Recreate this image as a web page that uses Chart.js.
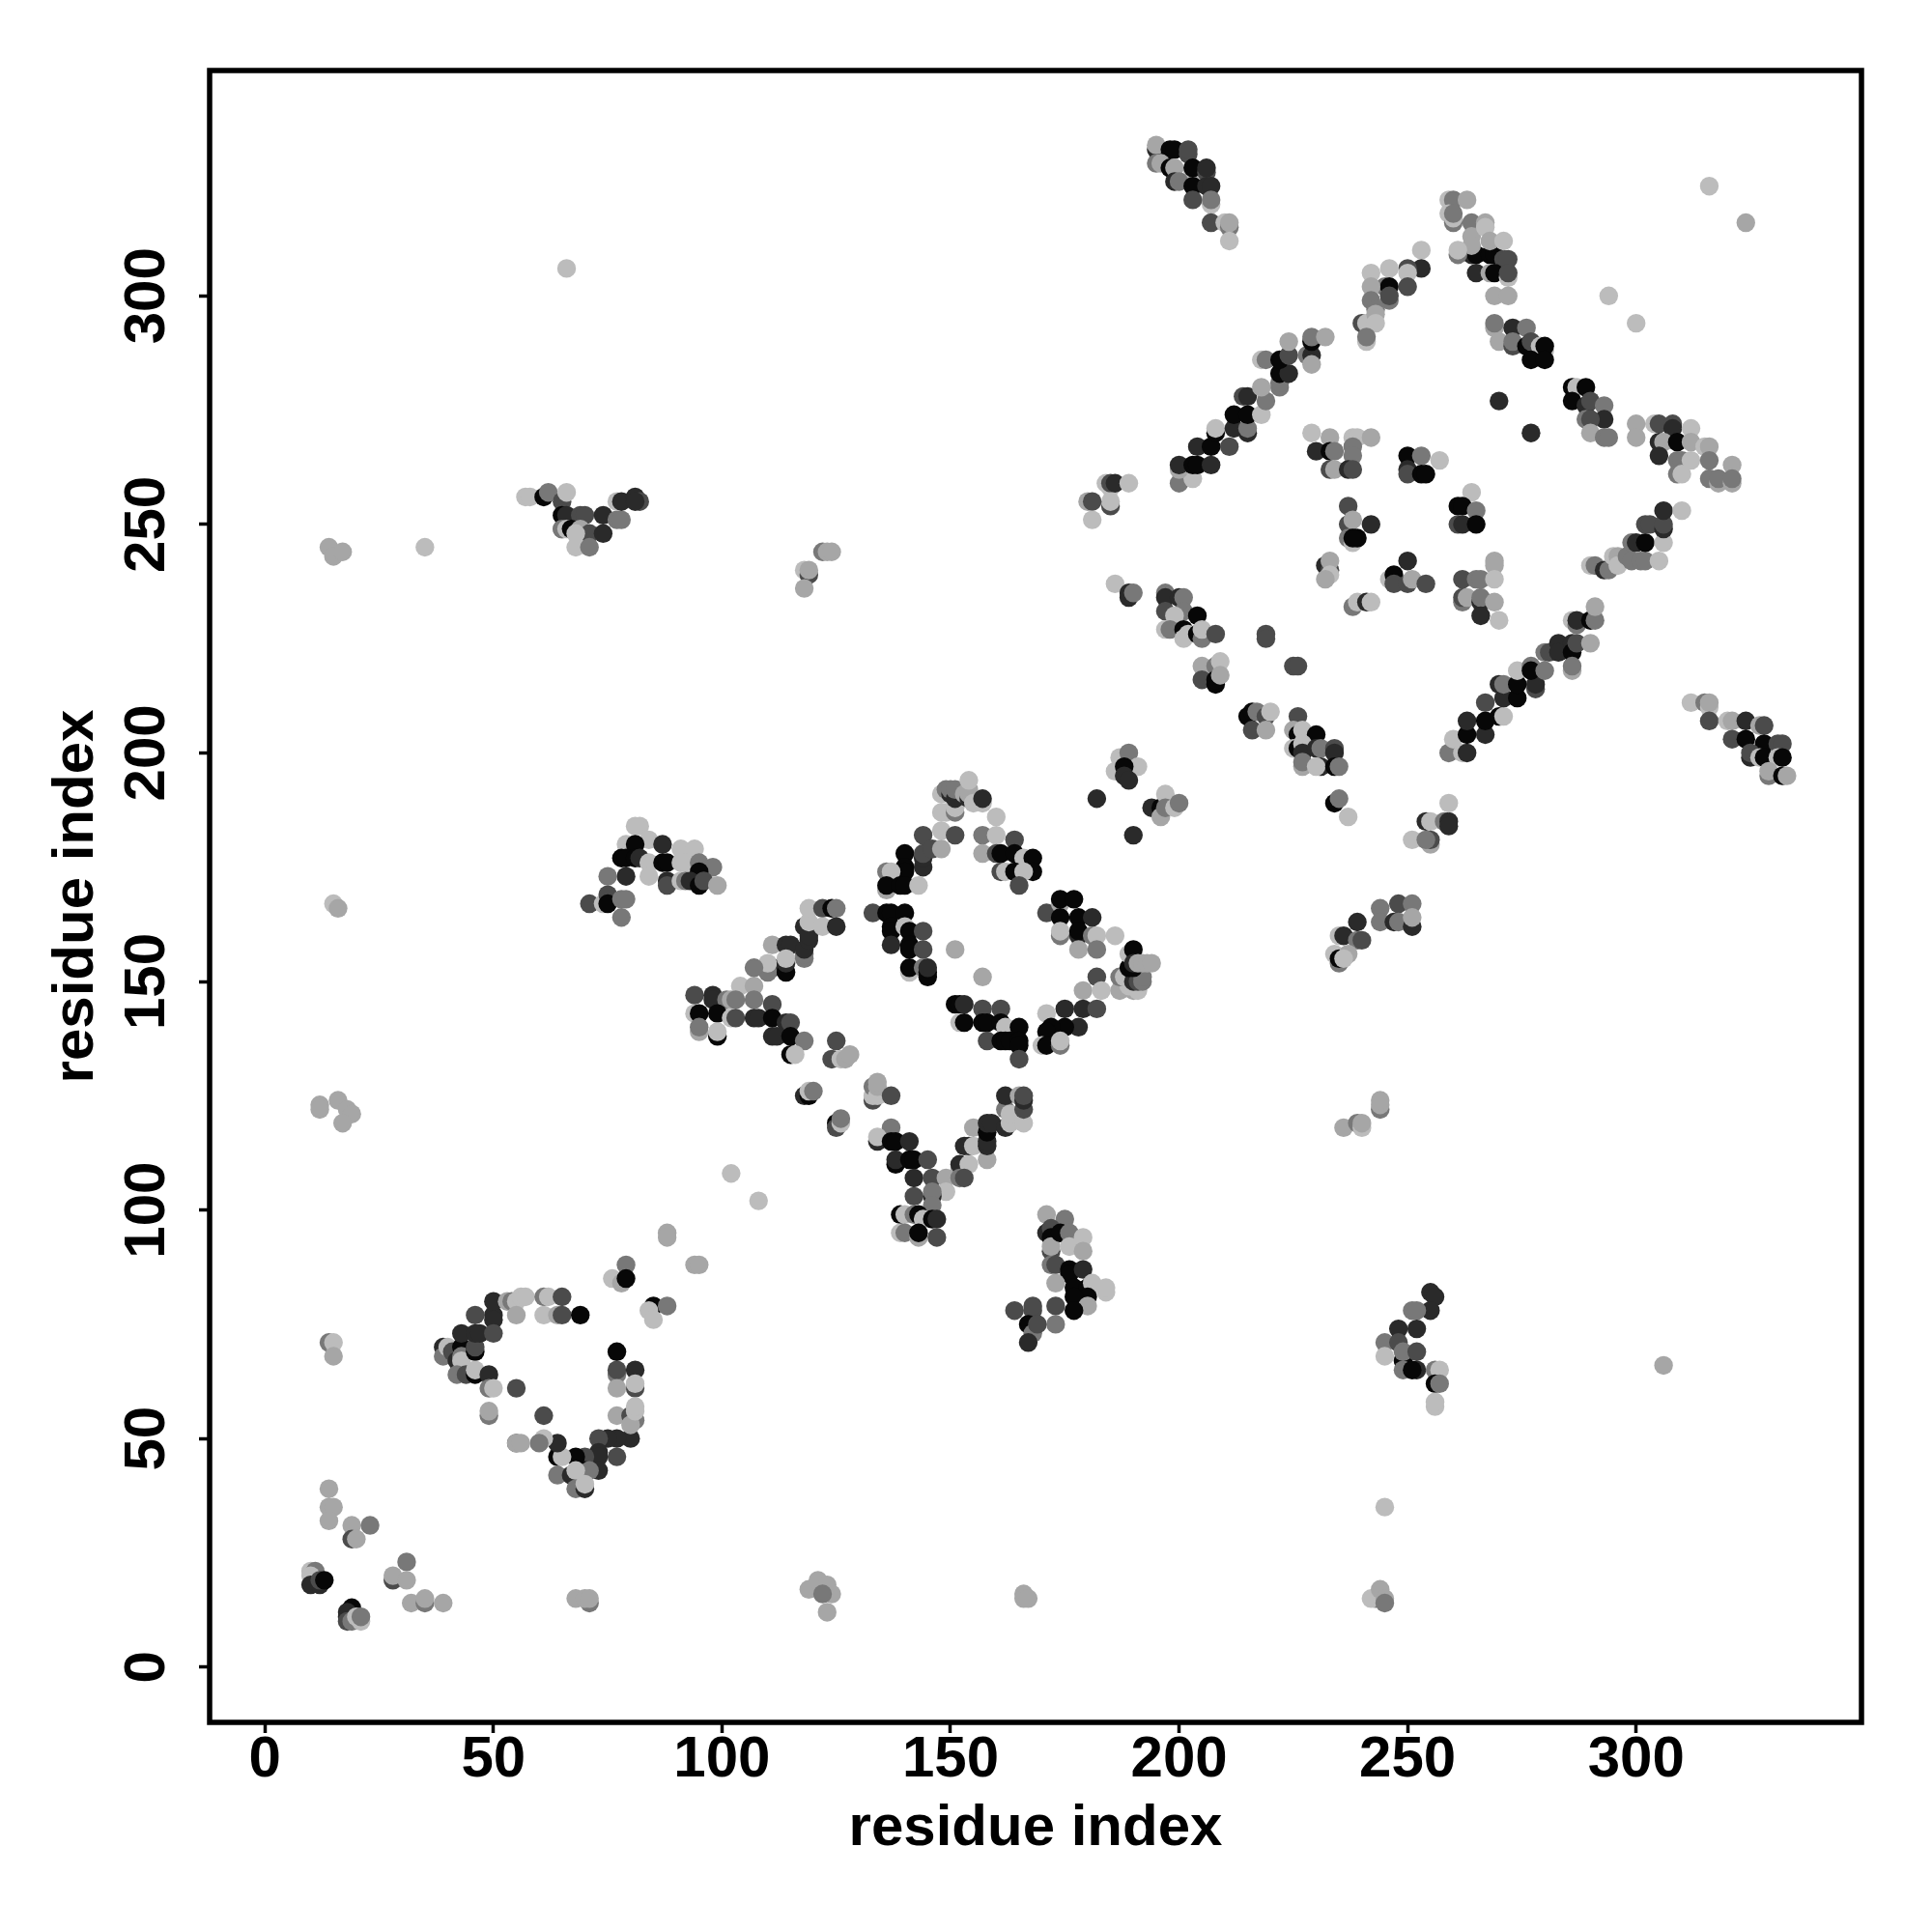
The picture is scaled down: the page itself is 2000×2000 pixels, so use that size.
<!DOCTYPE html>
<html lang="en">
<head>
    <meta charset="UTF-8">
    <title>Residue contact map</title>
    <script src="https://cdn.jsdelivr.net/npm/chart.js"></script>
    <style>
        body { margin: 0; background: #fff; }
        canvas { display: block; }
    </style>
</head>
<body>
    <canvas id="contactChart" width="2000" height="2000"></canvas>
    <script>
        // each group: residue x, residue y, strength level (0 strongest .. 5 weakest)
        const tickStep = 50;

        const cornerAx = [10,11,10,10,12,12,13];
        const cornerAy = [21,21,20,18,18,19,19];
        const cornerAl = [5,3,5,1,1,2,0];

        const cornerBx = [19,18,18,18,19,20,21,21];
        const cornerBy = [13,12,11,10,10,11,10,11];
        const cornerBl = [0,1,1,2,3,5,5,3];

        const lowScatterX = [14,14,15,14,19,23,19,20,31,28,28,31,32,35,35,39,14,15,15,68,71,70,71];
        const lowScatterY = [39,35,35,32,31,31,28,28,23,19,20,19,14,14,15,14,71,71,68,15,14,15,15];
        const lowScatterL = [4,4,4,4,4,3,2,4,3,2,4,4,4,3,4,4,3,5,4,4,3,4,4];

        const farX = [119,121,123,124,122,123,166,166,167,243,242,244,245,245,245,306,35,66,14,15,17,15,16,12,12,16,18,19,17,102,108,88,88,94,95];
        const farY = [17,19,18,16,16,12,16,15,15,15,15,17,15,14,35,66,245,306,245,243,244,167,166,123,122,124,122,121,119,108,102,95,94,88,88];
        const farL = [4,4,4,4,3,4,4,4,4,3,5,4,4,3,5,4,5,5,4,4,4,5,4,4,4,4,4,4,4,5,5,4,4,4,4];

        const ringLeftX = [39,39,40,41,42,43,43,43,46,46,43,46,47,50,42,44,46,46,49,49,50,49,49];
        const ringLeftY = [70,68,70,69,67,70,68,67,69,70,73,73,73,73,64,64,64,65,64,61,61,55,56];
        const ringLeftL = [1,3,5,2,1,0,3,5,0,2,1,1,1,2,3,2,0,5,1,3,5,3,4];

        const ringTopX = [50,50,46,50,53,54,55,56,57,55,61,62,65,61,64,65,69,55,61];
        const ringTopY = [77,76,77,80,80,80,80,81,81,77,81,81,81,77,77,77,77,61,55];
        const ringTopL = [1,1,2,1,4,3,5,5,5,4,3,5,2,5,4,2,0,2,2];

        const ringRightX = [79,76,78,79,85,84,85,88,77,77,77,81,81,81,77,77,80,81,80,81,81];
        const ringRightY = [88,85,84,85,79,78,76,79,69,64,65,65,61,62,61,55,55,54,53,56,57];
        const ringRightL = [3,5,4,0,0,5,5,3,0,3,2,1,2,5,4,4,2,3,4,5,5];

        const ringBottomX = [80,77,75,73,77,73,73,73,70,68,64,65,64,61,60,55,55,56,64,67,70,71,68,68,70,70];
        const ringBottomY = [50,50,50,50,46,47,46,43,46,46,46,46,49,50,49,49,49,49,42,42,43,43,43,39,39,40];
        const ringBottomL = [1,1,1,2,2,1,1,1,2,0,0,5,1,5,3,2,4,4,3,1,0,3,5,3,1,5];

        const diamondLeftX = [94,98,98,101,104,107,107,107,102,103,94,95,99,95,95,99,99,102,103,107,108,111,111,114,115,111,112,115,118,115,116];
        const diamondLeftY = [147,147,146,146,149,149,153,146,146,146,143,143,143,139,140,138,139,142,142,142,142,145,142,141,141,138,138,138,137,134,134];
        const diamondLeftL = [2,1,1,3,5,4,3,3,4,3,5,0,0,4,3,0,5,5,2,1,1,2,0,1,2,1,1,0,3,0,5];

        const armUpLeftX = [111,114,115,111,110,110,114,114,114,118,118,118,119,118,119,119,119,122,124,125,122,125,125,124,126,127,128];
        const armUpLeftY = [158,158,158,153,152,154,152,154,155,155,156,157,159,162,160,163,166,166,166,166,162,162,137,133,133,133,134];
        const armUpLeftL = [4,1,1,1,3,5,0,1,5,3,3,1,1,1,1,5,5,2,0,3,5,1,2,2,5,4,4];

        const innerLeftX = [133,136,137,140,137,137,140,141,144,137,141,141,144,141,141,144,145,145,145,151,157];
        const innerLeftY = [165,165,165,165,162,161,162,161,161,158,158,157,157,152,153,153,152,151,153,157,151];
        const innerLeftL = [2,0,0,0,0,0,5,0,2,1,0,0,2,5,0,3,0,0,1,4,4];

        const armTopX = [140,140,140,136,137,136,136,139,140,143,144,144,144,144,146,148,148,151];
        const armTopY = [178,175,174,174,174,170,171,171,171,171,175,177,178,182,179,179,183,182];
        const armTopL = [0,0,0,3,5,4,0,0,0,5,1,1,2,2,2,4,5,2];

        const topBlobX = [148,149,151,151,148,149,150,150,151,151,153,154,154,154,154,155,157,157,160];
        const topBlobY = [187,187,187,188,191,192,191,192,190,192,191,190,191,192,194,189,189,190,186];
        const topBlobL = [5,5,3,5,5,3,1,3,1,3,4,1,4,4,5,5,5,1,5];

        const armRightX = [157,160,164,157,160,161,164,166,168,168,161,162,164,166,165];
        const armRightY = [182,182,181,178,178,178,178,177,177,174,174,174,174,174,171];
        const armRightL = [3,5,2,4,2,0,0,5,0,0,2,5,0,5,2];

        const lobeRightX = [171,174,174,177,174,178,181,174,174,178,178,181,182,178,182,186];
        const lobeRightY = [165,167,168,168,164,164,164,160,161,160,161,160,160,157,157,160];
        const lobeRightL = [2,4,0,0,0,0,1,3,5,1,0,3,5,4,3,5];

        const farRightX = [187,190,191,189,187,188,190,191,192,192,189,190,189,190,190,191,192,193,194];
        const farRightY = [148,148,148,149,151,151,150,150,150,151,153,153,156,157,154,154,154,154,154];
        const farRightL = [4,4,5,5,3,5,1,2,3,3,0,0,5,0,1,4,4,4,4];

        const armLowRightX = [182,179,183,179,175,182,178,175,171,172,171,170,171,174,174];
        const armLowRightY = [151,148,148,144,144,144,140,140,143,140,139,136,136,136,137];
        const armLowRightL = [2,4,5,1,1,2,1,0,5,0,0,5,0,3,5];

        const innerBottomX = [151,152,153,152,153,157,161,157,158,161,162,165,158,161,162,163,165,165,165];
        const innerBottomY = [145,145,145,141,141,144,144,141,141,141,140,140,137,137,137,137,137,136,133];
        const innerBottomL = [0,0,1,5,0,2,2,0,0,0,5,0,2,0,0,0,0,0,2];

        const belowDiamondX = [118,119,119,120,125,125,126,126,133,133,133,134,134,134,137];
        const belowDiamondY = [125,125,126,126,119,118,119,120,124,125,127,125,127,128,125];
        const belowDiamondL = [1,0,5,3,0,2,5,3,2,5,3,5,4,4,2];

        const vLeftX = [137,134,134,137,138,141,138,138,141,142,145,142,146,149,152,153,149,142,146,146,146,139,140,142,143,144,146,147,139,140,143,143,147];
        const vLeftY = [118,115,116,115,115,115,110,111,111,111,111,107,107,107,107,107,104,103,103,104,101,99,99,99,99,98,98,98,95,95,94,95,94];
        const vLeftL = [3,1,5,0,0,1,0,1,0,0,2,1,2,4,3,2,5,2,1,3,3,0,5,3,0,5,0,1,5,3,4,0,2];

        const vRightX = [152,152,154,158,153,154,155,158,158,155,158,158,159,162,163,162,163,166,166,162,165,166,166];
        const vRightY = [109,110,110,111,114,114,114,114,115,118,117,119,119,118,119,122,121,119,122,125,125,124,125];
        const vRightL = [4,1,5,4,1,1,5,1,1,4,0,1,1,1,5,3,5,5,2,1,4,1,2];

        const lowBlobAx = [171,175,171,172,172,172,172,174,176,176,179,179,172,173,176,176,179,173,177,180,181,184,184,180,177,173,180,177,173,164,168,168,167,168,169,167];
        const lowBlobAy = [99,98,95,96,94,91,92,95,95,92,94,91,88,88,87,86,87,84,83,83,84,82,83,81,81,79,79,78,75,78,78,79,75,73,75,71];
        const lowBlobAl = [4,3,1,2,0,2,4,0,3,5,5,4,3,2,0,0,1,4,0,0,5,5,5,0,0,2,4,0,3,2,2,2,0,3,2,1];

        const lowBlobBx = [255,256,255,251,252,252,248,245,248,245,249,249,249,252,252,251,256,257,256,257,256,256];
        const lowBlobBy = [82,81,78,78,78,74,74,71,71,68,67,69,65,69,65,65,65,65,62,62,57,58];
        const lowBlobBl = [1,1,1,3,3,1,1,3,2,5,0,3,3,2,1,0,3,5,0,3,5,5];

        const wedgeTopX = [57,58,61,62,65,66,65,65,66,69,70,65,66,67,69,71,68,74,68,71,74,77,78,77,78,81,82,81];
        const wedgeTopY = [256,256,256,257,255,257,252,249,252,252,252,249,249,249,249,248,248,248,245,245,252,251,251,255,255,256,255,255];
        const wedgeTopL = [5,5,0,3,2,5,0,3,1,2,2,3,5,0,4,2,5,1,5,3,1,3,3,5,1,1,2,1];

        const midLeftX = [122,123,124,118,119,119,118];
        const midLeftY = [244,244,244,240,239,240,236];
        const midLeftL = [3,4,4,5,2,4,4];

        const wedgeLowX = [82,81,79,84,81,87,91,94,78,79,81,82,84,87,88,79,75,84,88,88,91,92,95,98,95,91,92,93,95,96,99];
        const wedgeLowY = [184,184,180,181,180,180,179,179,177,177,177,177,176,176,176,173,173,173,172,171,176,176,176,175,174,172,172,172,171,172,171];
        const wedgeLowL = [5,5,5,5,0,1,5,5,0,0,0,1,5,0,0,1,3,5,1,2,5,5,3,3,0,5,3,1,0,2,4];

        const wedgeBaseX = [71,74,75,75,78,79,78];
        const wedgeBaseY = [167,167,169,167,168,168,164];
        const wedgeBaseL = [2,5,2,0,3,3,3];

        const stripA_x = [186,189,189,190,197,197,200,201,197,201,199,204,197,198,201,202,201,204,205,205,208];
        const stripA_y = [237,235,234,235,235,234,234,234,231,231,230,230,227,227,227,226,225,226,225,227,226];
        const stripA_l = [5,1,1,3,3,1,1,3,2,3,5,0,5,3,0,5,5,0,3,5,2];

        const stepsX = [219,219,225,226,205,208,209,205,208,208,209,215,216,217,219,220,216,219];
        const stepsY = [226,225,219,219,219,219,220,216,215,216,217,208,209,209,208,209,205,205];
        const stepsL = [2,2,2,2,4,3,5,2,0,0,4,0,0,3,2,5,2,4];

        const stripBx = [226,225,226,227,230,225,226,227,227,230,231,234,234,227,227,231,230,234,235,234,235,237];
        const stripBy = [208,205,204,205,204,201,201,202,200,201,201,201,200,197,198,197,197,197,197,189,190,186];
        const stripBl = [2,4,0,5,0,5,0,5,1,1,3,2,1,4,3,1,5,0,3,0,3,5];

        const midMarksX = [187,189,186,191,188,188,189,182,190,194,196,197,196,197,199,200];
        const midMarksY = [199,200,196,197,197,195,194,190,182,188,188,191,186,188,188,189];
        const midMarksL = [5,3,5,5,0,1,1,1,1,1,0,5,4,3,5,3];

        const nearDiagX = [251,254,255,255,255,254,258,259,259,259];
        const nearDiagY = [181,185,185,180,181,181,185,185,184,189];
        const nearDiagL = [5,1,5,4,2,3,3,1,1,5];

        const innerBoxAx = [229,233,238,239,242,230,233,234,238,238,233,234,237,238];
        const innerBoxAy = [270,269,269,269,269,266,266,266,267,265,262,262,262,262];
        const innerBoxAl = [5,4,5,5,4,1,0,3,3,3,2,4,1,2];

        const innerBoxBx = [250,253,257,250,250,253,254,264,261,262,265,261,262,265];
        const innerBoxBy = [265,265,264,262,261,261,261,257,254,254,253,250,250,250];
        const innerBoxBl = [0,3,5,1,2,0,0,5,0,0,3,2,1,0];

        const innerBoxCx = [237,237,238,242,237,238,239,238,232,233,233,233,232];
        const innerBoxCy = [254,250,251,250,247,246,247,247,241,240,242,239,238];
        const innerBoxCl = [2,2,4,1,3,5,0,0,1,2,4,5,4];

        const innerBoxDx = [246,247,247,250,250,251,254,262,265,266,269,269,269,262,262,263,266,266,269,266,270,238,239,241,242];
        const innerBoxDy = [238,239,237,242,237,238,237,238,238,238,242,241,238,233,234,234,233,234,233,230,229,232,233,233,233];
        const innerBoxDl = [5,0,2,1,2,4,2,2,3,3,4,4,5,3,2,4,1,3,4,1,5,3,5,1,5];

        const diagLowX = [259,260,262,263,263,267,263,267,267,270,271,271,274,270,271,274,274,277,278,278,277,280];
        const diagLowY = [200,203,200,200,204,204,207,207,211,208,208,212,212,215,215,215,218,219,214,215,218,218];
        const diagLowL = [3,5,5,1,0,1,1,0,2,0,5,1,0,1,3,0,5,3,2,1,0,3];

        const diagLowUpX = [280,281,283,283,286,286,287,290,286,286,286,287,287,290,291,291];
        const diagLowUpY = [222,222,224,222,224,222,224,224,218,219,229,228,229,229,229,232];
        const diagLowUpL = [3,2,1,1,1,0,2,4,4,3,5,3,1,0,3,4];

        const armEndX = [290,291,293,294,295,296,296,298,299,300,299,301,302,305,302,302,303,306,306,306,306,310];
        const armEndY = [241,241,240,240,243,243,241,243,246,246,242,242,242,242,246,250,250,246,249,250,253,253];
        const armEndL = [5,3,1,3,5,4,5,3,3,1,3,3,3,5,0,2,2,5,1,2,1,5];

        const lobeLowX = [312,315,316,316,316,320,321,324,321,324,327,328,328,331,332,325,325,327,328,331,332,329,329,332,333];
        const lobeLowY = [211,211,210,211,207,207,207,207,203,203,206,206,202,202,202,199,200,199,199,199,199,195,196,195,195];
        const lobeLowL = [5,3,5,4,2,5,4,1,2,0,4,2,0,2,2,1,2,5,0,5,0,3,4,0,4];

        const topLeftX = [195,195,198,199,202,202,195,196,198,199,203,203,206,206,199,200,203,206,207,203,207,207,207,210,211,211,211];
        const topLeftY = [332,333,332,332,331,332,329,329,328,328,327,328,327,328,325,325,324,324,324,321,320,321,316,316,315,316,312];
        const topLeftL = [1,4,0,0,2,2,3,4,0,4,5,0,2,1,1,3,0,1,1,2,5,3,2,5,3,4,5];

        const upArmX = [253,253,250,246,250,242,245,246,250,242,246,246,242,243,240,241,243,243,241,241];
        const upArmY = [310,306,306,306,305,305,302,302,302,302,299,300,299,297,294,294,296,294,290,291];
        const upArmL = [5,1,2,5,5,5,3,0,2,4,3,2,3,3,2,5,4,5,5,3];

        const seamX = [184,185,185,186,189,185,185,180,181,181];
        const seamY = [259,258,259,259,259,254,255,255,255,251];
        const seamL = [5,5,2,1,5,2,5,4,2,5];

        const seamMidX = [200,203,200,200,203,204,207,204,207,211,208,208,212,215,215,212,215,218,214,215,219,218];
        const seamMidY = [259,260,262,263,263,263,263,267,267,267,270,271,271,270,271,274,274,274,278,278,277,280];
        const seamMidL = [3,5,4,1,0,0,1,1,0,2,0,5,1,1,3,0,0,5,2,1,3,4];

        const seamTopX = [222,222,222,224,218,219,222,224,224,228,229,229,229,229,232];
        const seamTopY = [280,281,283,283,286,286,286,287,290,287,287,285,290,291,291];
        const seamTopL = [3,3,0,1,5,3,0,2,4,3,1,4,0,3,4];

        const upRightAx = [259,260,263,259,260,260,260,264,267,264,267,268,271,264,261,261];
        const upRightAy = [321,321,321,318,316,317,318,316,316,313,315,312,312,311,309,310];
        const upRightAl = [5,3,4,5,3,5,3,3,4,4,5,4,5,4,3,5];

        const upRightBx = [264,265,268,269,271,272,265,268,269,272,272,269,272];
        const upRightBy = [309,309,309,309,308,308,305,305,305,304,305,300,300];
        const upRightBl = [1,0,0,0,2,2,1,4,0,5,2,4,4];

        const rightStepsX = [269,269,273,276,270,273,273,276,277,279,280,280,277,280,270,277];
        const rightStepsY = [293,294,293,293,290,289,290,289,290,289,288,289,286,286,277,270];
        const rightStepsL = [4,3,1,3,4,2,3,0,2,5,5,0,0,0,1,1];

        const rightStepsBx = [286,287,289,286,289,290,293,293,289,290,290,293,294,300,300];
        const rightStepsBy = [280,280,280,277,276,277,276,273,273,273,270,269,269,272,269];
        const rightStepsBl = [0,5,0,0,1,2,3,1,3,2,4,3,3,4,4];

        const farLobeX = [304,305,308,308,305,306,305,309,312,312,315,316,309,310,312,316,309,310,316,318,318,321,321,321];
        const farLobeY = [272,272,272,271,268,268,265,268,271,268,267,267,264,264,264,264,261,261,260,259,260,263,259,260];
        const farLobeL = [5,2,2,1,1,4,1,0,5,4,5,4,3,3,5,3,3,5,3,4,3,4,4,3];

        const farSinglesX = [316,324,294,300,239,244,244,248,251,247,248,251,251];
        const farSinglesY = [324,316,300,294,163,166,163,167,167,163,163,162,164];
        const farSinglesL = [5,4,5,5,1,3,3,2,3,1,3,1,4];

        const slopeX = [235,236,239,240,234,235,235,237,236,244,244,244,236,239,240,240];
        const slopeY = [160,160,159,159,156,154,155,156,155,122,123,124,118,119,118,119];
        const slopeL = [5,1,3,2,5,3,0,4,5,3,4,4,4,3,5,4];

        const groups = [
            [cornerAx, cornerAy, cornerAl], [cornerBx, cornerBy, cornerBl],
            [lowScatterX, lowScatterY, lowScatterL], [farX, farY, farL],
            [ringLeftX, ringLeftY, ringLeftL], [ringTopX, ringTopY, ringTopL],
            [ringRightX, ringRightY, ringRightL], [ringBottomX, ringBottomY, ringBottomL],
            [diamondLeftX, diamondLeftY, diamondLeftL], [armUpLeftX, armUpLeftY, armUpLeftL],
            [innerLeftX, innerLeftY, innerLeftL], [armTopX, armTopY, armTopL],
            [topBlobX, topBlobY, topBlobL], [armRightX, armRightY, armRightL],
            [lobeRightX, lobeRightY, lobeRightL], [farRightX, farRightY, farRightL],
            [armLowRightX, armLowRightY, armLowRightL], [innerBottomX, innerBottomY, innerBottomL],
            [belowDiamondX, belowDiamondY, belowDiamondL], [vLeftX, vLeftY, vLeftL],
            [vRightX, vRightY, vRightL], [lowBlobAx, lowBlobAy, lowBlobAl],
            [lowBlobBx, lowBlobBy, lowBlobBl], [wedgeTopX, wedgeTopY, wedgeTopL],
            [midLeftX, midLeftY, midLeftL], [wedgeLowX, wedgeLowY, wedgeLowL],
            [wedgeBaseX, wedgeBaseY, wedgeBaseL], [stripA_x, stripA_y, stripA_l],
            [stepsX, stepsY, stepsL], [stripBx, stripBy, stripBl],
            [midMarksX, midMarksY, midMarksL], [nearDiagX, nearDiagY, nearDiagL],
            [innerBoxAx, innerBoxAy, innerBoxAl], [innerBoxBx, innerBoxBy, innerBoxBl],
            [innerBoxCx, innerBoxCy, innerBoxCl], [innerBoxDx, innerBoxDy, innerBoxDl],
            [diagLowX, diagLowY, diagLowL], [diagLowUpX, diagLowUpY, diagLowUpL],
            [armEndX, armEndY, armEndL], [lobeLowX, lobeLowY, lobeLowL],
            [topLeftX, topLeftY, topLeftL], [upArmX, upArmY, upArmL],
            [seamX, seamY, seamL], [seamMidX, seamMidY, seamMidL],
            [seamTopX, seamTopY, seamTopL], [upRightAx, upRightAy, upRightAl],
            [upRightBx, upRightBy, upRightBl], [rightStepsX, rightStepsY, rightStepsL],
            [rightStepsBx, rightStepsBy, rightStepsBl], [farLobeX, farLobeY, farLobeL],
            [farSinglesX, farSinglesY, farSinglesL], [slopeX, slopeY, slopeL]
        ];

        const greys = ['#070707', '#2a2a2a', '#4b4b4b', '#787878', '#a6a6a6', '#bcbcbc'];
        const fontFamily = '"Liberation Sans", Arial, sans-serif';

        const datasets = groups.map(([xs, ys, levels]) => ({
            data: xs.map((x, i) => ({ x: x, y: ys[i] })),
            pointBackgroundColor: levels.map(l => greys[l]),
            pointBorderWidth: 0,
            pointRadius: 9.7,
            showLine: false
        }));

        // R style box round the plot
        const boxPlugin = {
            id: 'box',
            afterDraw(chart) {
                const a = chart.chartArea;
                const ctx = chart.ctx;
                ctx.save();
                ctx.strokeStyle = '#000';
                ctx.lineWidth = 5.5;
                ctx.strokeRect(a.left, a.top, a.right - a.left, a.bottom - a.top);
                ctx.restore();
            }
        };

        function axis(titlePad, extra) {
            return Object.assign({
                type: 'linear',
                min: -12.1,
                max: 349.3,
                border: { display: false },
                grid: { drawOnChartArea: false, drawTicks: true, tickLength: 11, tickWidth: 3.5, tickColor: '#000' },
                title: {
                    display: true,
                    text: 'residue index',
                    color: '#000',
                    font: { family: fontFamily, size: 60, weight: 'bold', lineHeight: 1.2 },
                    padding: titlePad
                }
            }, extra);
        }

        const tickFont = { family: fontFamily, size: 60, weight: 'bold' };

        new Chart(document.getElementById('contactChart').getContext('2d'), {
            type: 'scatter',
            data: { datasets: datasets },
            plugins: [boxPlugin],
            options: {
                responsive: false,
                animation: false,
                events: [],
                layout: { padding: { top: 73, right: 73, left: 0, bottom: 0 } },
                plugins: { legend: { display: false }, tooltip: { enabled: false } },
                scales: {
                    x: axis({ top: 0, bottom: 71 }, {
                        position: 'bottom',
                        ticks: { stepSize: tickStep, includeBounds: false, color: '#000', font: tickFont, padding: -8, maxRotation: 0, autoSkip: false },
                        afterFit(scale) { scale.height = 217; }
                    }),
                    y: axis({ top: 43, bottom: 0 }, {
                        position: 'left',
                        ticks: { stepSize: tickStep, includeBounds: false, color: '#000', font: tickFont, padding: 2, minRotation: 90, maxRotation: 90, crossAlign: 'center', autoSkip: false },
                        afterFit(scale) { scale.width = 217; }
                    })
                }
            }
        });
    </script>
</body>
</html>
